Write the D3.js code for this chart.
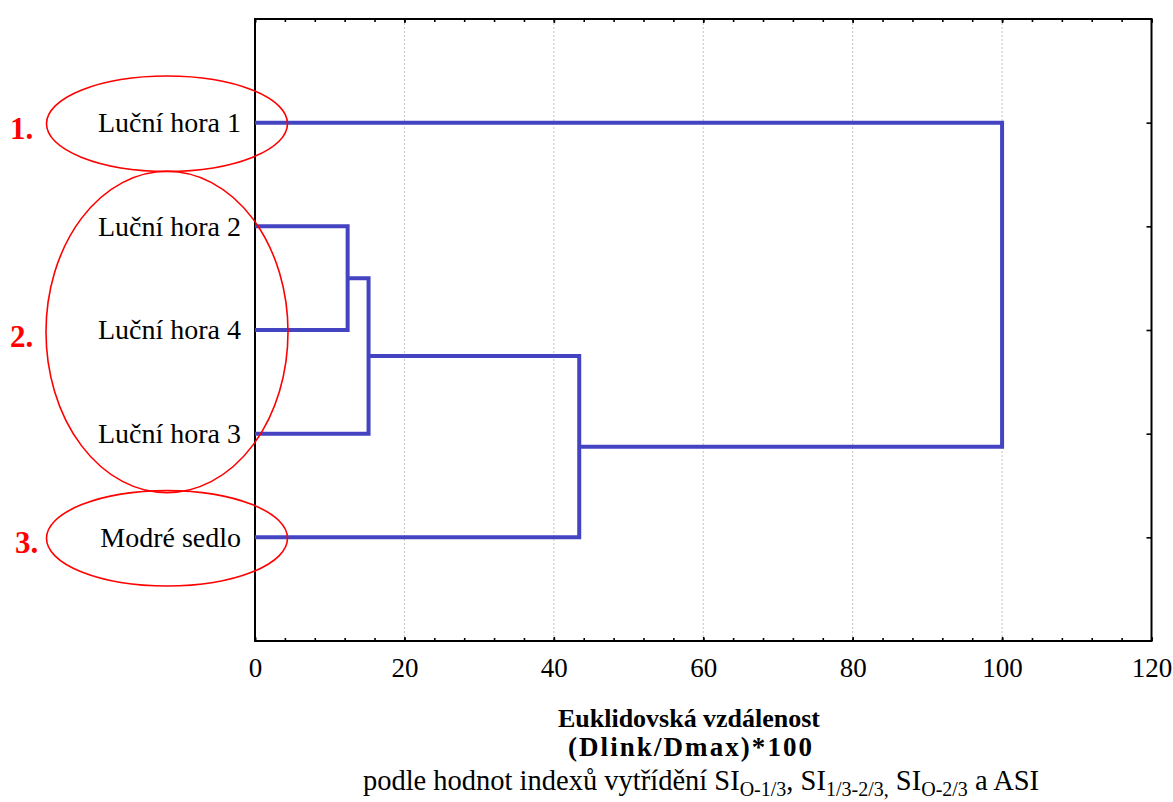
<!DOCTYPE html>
<html>
<head>
<meta charset="utf-8">
<script src="https://cdn.jsdelivr.net/npm/d3@7"></script>
<style>
  html, body { margin: 0; padding: 0; background: #fff; }
  svg { display: block; font-family: "Liberation Serif", "Times New Roman", serif; }
</style>
</head>
<body>
<svg id="chart" width="1173" height="802"></svg>
<script>
// Leaves of the dendrogram, in display order (top to bottom)
const leaves = ["Luční hora 1", "Luční hora 2", "Luční hora 4", "Luční hora 3", "Modré sedlo"];

// Linkage: node ids 0..4 are leaves, each merge creates node 5, 6, 7, 8
const mergeA = [1, 5, 6, 0];
const mergeB = [2, 3, 4, 7];
const mergeHeight = [12.4, 15.2, 43.4, 100];

// Axis ticks
const majorTicks = [0, 20, 40, 60, 80, 100, 120];
const minorTicks = d3.range(0, 121, 4);

// Highlighted groups of leaves (first leaf index, leaf count, label)
const groupLabels = ["1.", "2.", "3."];
const groupStart = [0, 1, 4];
const groupSize = [1, 3, 1];

const svg = d3.select("#chart");
const plotLeft = 255, plotRight = 1151.5, plotTop = 19, plotBottom = 641;

const x = d3.scaleLinear().domain([0, 120]).range([plotLeft, plotRight]);
const y = d3.scalePoint().domain(leaves).range([plotTop, plotBottom]).padding(1);
const step = y.step();

// Dotted vertical grid at major ticks
svg.append("g")
  .selectAll("line")
  .data(majorTicks.filter(d => d > 0 && d < 120))
  .join("line")
  .attr("x1", d => x(d)).attr("x2", d => x(d))
  .attr("y1", plotTop).attr("y2", plotBottom)
  .attr("stroke", "#c4c4c4")
  .attr("stroke-width", 1)
  .attr("stroke-dasharray", "2,2");

// Axes: all ticks point into the plot
const tickFont = 27;
function styleAxis(g) {
  g.select(".domain").remove();
  g.selectAll(".tick line").attr("stroke", "#000").attr("stroke-width", 1.6);
  g.selectAll("text").attr("font-family", "Liberation Serif, Times New Roman, serif").attr("fill", "#000");
}

svg.append("g").attr("transform", `translate(0,${plotBottom})`)
  .call(d3.axisBottom(x).tickValues(minorTicks).tickSize(-3).tickFormat(""))
  .call(styleAxis);
svg.append("g").attr("transform", `translate(0,${plotBottom})`)
  .call(d3.axisBottom(x).tickValues(majorTicks).tickSize(-4).tickPadding(17).tickFormat(d3.format("d")))
  .call(styleAxis)
  .call(g => g.selectAll("text").attr("font-size", tickFont));
svg.append("g").attr("transform", `translate(0,${plotTop})`)
  .call(d3.axisTop(x).tickValues(minorTicks).tickSize(-3).tickFormat(""))
  .call(styleAxis);
svg.append("g").attr("transform", `translate(0,${plotTop})`)
  .call(d3.axisTop(x).tickValues(majorTicks).tickSize(-4).tickFormat(""))
  .call(styleAxis);

svg.append("g").attr("transform", `translate(${plotLeft},0)`)
  .call(d3.axisLeft(y).tickSize(-5).tickPadding(14))
  .call(styleAxis)
  .call(g => g.selectAll("text").attr("font-size", 28));
svg.append("g").attr("transform", `translate(${plotRight},0)`)
  .call(d3.axisRight(y).tickSize(-5).tickFormat(""))
  .call(styleAxis);

// Plot frame
svg.append("rect")
  .attr("x", plotLeft).attr("y", plotTop)
  .attr("width", plotRight - plotLeft).attr("height", plotBottom - plotTop)
  .attr("fill", "none").attr("stroke", "#000").attr("stroke-width", 2);

// Dendrogram links
const nodeY = leaves.map(d => y(d));
const nodeH = leaves.map(() => 0);
const links = [];
mergeA.forEach((a, i) => {
  const b = mergeB[i], h = mergeHeight[i];
  links.push({ a, b, h });
  nodeY.push((nodeY[a] + nodeY[b]) / 2);
  nodeH.push(h);
});

svg.append("g")
  .selectAll("path")
  .data(links)
  .join("path")
  .attr("d", d => {
    const p = d3.path();
    p.moveTo(x(nodeH[d.a]), nodeY[d.a]);
    p.lineTo(x(d.h), nodeY[d.a]);
    p.lineTo(x(d.h), nodeY[d.b]);
    p.lineTo(x(nodeH[d.b]), nodeY[d.b]);
    return p.toString();
  })
  .attr("fill", "none")
  .attr("stroke", "#4444c2")
  .attr("stroke-width", 4)
  .attr("stroke-linejoin", "miter");

// Red ellipses marking the groups
const groups = groupLabels.map((label, i) => {
  const rows = leaves.slice(groupStart[i], groupStart[i] + groupSize[i]);
  const cy = d3.mean(rows, r => y(r)) + (groupSize[i] > 1 ? 2 : 1);
  const ry = step * (0.46 + (groupSize[i] - 1) * 0.545);
  return { label, cy, ry, n: groupSize[i] };
});

svg.append("g")
  .selectAll("ellipse")
  .data(groups)
  .join("ellipse")
  .attr("cx", 167).attr("cy", d => d.cy)
  .attr("rx", d => d.n > 1 ? 121 : 120.5).attr("ry", d => d.ry)
  .attr("fill", "none").attr("stroke", "#ff0000").attr("stroke-width", 1.6);

svg.append("g")
  .selectAll("text")
  .data(groups)
  .join("text")
  .attr("x", (d, i) => i === 2 ? 15 : 10)
  .attr("y", d => d.cy + 15)
  .attr("fill", "#ff0000")
  .attr("font-weight", "bold")
  .attr("font-size", 31)
  .text(d => d.label);

// Axis title
const cxT = 689;
svg.append("text")
  .attr("x", cxT).attr("y", 727)
  .attr("text-anchor", "middle").attr("font-weight", "bold").attr("font-size", 26)
  .attr("textLength", 262).attr("lengthAdjust", "spacing")
  .text("Euklidovská vzdálenost");
svg.append("text")
  .attr("x", cxT + 1).attr("y", 756)
  .attr("text-anchor", "middle").attr("font-weight", "bold").attr("font-size", 27)
  .attr("textLength", 244).attr("lengthAdjust", "spacing")
  .text("(Dlink/Dmax)*100");

const sub = svg.append("text")
  .attr("x", 701).attr("y", 790)
  .attr("text-anchor", "middle").attr("font-size", 28.5);
const parts = [
  ["podle hodnot indexů vytřídění SI", false],
  ["O-1/3", true],
  [", SI", false],
  ["1/3-2/3,", true],
  [" SI", false],
  ["O-2/3", true],
  [" a ASI", false]
];
let shifted = false;
parts.forEach(([t, isSub]) => {
  const ts = sub.append("tspan").text(t);
  if (isSub && !shifted) { ts.attr("dy", 6).attr("font-size", 20); shifted = true; }
  else if (isSub) { ts.attr("font-size", 20); }
  else if (shifted) { ts.attr("dy", -6); shifted = false; }
});
</script>
</body>
</html>
